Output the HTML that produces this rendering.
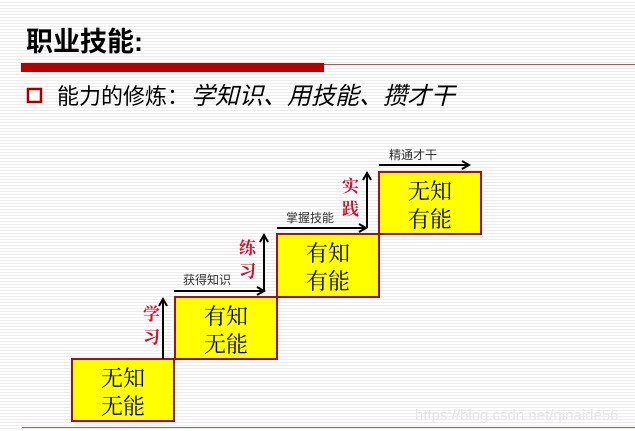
<!DOCTYPE html>
<html><head><meta charset="utf-8"><style>
html,body{margin:0;padding:0}
body{width:635px;height:431px;overflow:hidden;background:#fff repeating-linear-gradient(to bottom,#fff 0,#fff 2px,#ececec 2px,#ececec 3px);font-family:"Liberation Sans","Noto Sans CJK SC",sans-serif;position:relative}
</style></head><body>
<svg width="635" height="431" style="position:absolute;left:0;top:0" font-family="'Liberation Sans','Noto Sans CJK SC',sans-serif">
<defs><marker id="a" markerWidth="10" markerHeight="10" refX="8" refY="5" orient="auto" markerUnits="userSpaceOnUse"><path d="M1,1 L8,5 L1,9" fill="none" stroke="#000" stroke-width="2"/></marker></defs>
<text x="26" y="51" font-size="27" font-weight="bold" fill="#000">职业技能:</text>
<rect x="21" y="63" width="303" height="9" fill="#b80000"/>
<line x1="324" y1="64.5" x2="635" y2="64.5" stroke="#c45050" stroke-width="1"/>
<rect x="28" y="89" width="13" height="13" fill="#fff" stroke="#a00000" stroke-width="2.5"/>
<text x="57" y="104" font-size="22" fill="#000">能力的修炼：<tspan font-style="italic" font-size="24" dx="2">学知识、用技能、攒才干</tspan></text>
<g fill="#ffff00" stroke="#a01020" stroke-width="2">
<rect x="72" y="359" width="102" height="62"/>
<rect x="175" y="297" width="102" height="62"/>
<rect x="277" y="234" width="102" height="63"/>
<rect x="379" y="172" width="102" height="62"/>
</g>
<g font-size="22" fill="#000" text-anchor="middle" font-family="'Liberation Serif','Noto Serif CJK SC',serif">
<text x="123" y="386">无知</text><text x="123" y="414">无能</text>
<text x="226" y="324">有知</text><text x="226" y="352">无能</text>
<text x="328" y="261">有知</text><text x="328" y="289">有能</text>
<text x="430" y="199">无知</text><text x="430" y="227">有能</text>
</g>
<g stroke="#000" stroke-width="2" marker-end="url(#a)">
<line x1="163" y1="359" x2="163" y2="299"/>
<line x1="174" y1="291" x2="264" y2="291"/>
<line x1="264" y1="291" x2="264" y2="235"/>
<line x1="277" y1="228" x2="366" y2="228"/>
<line x1="367" y1="228" x2="367" y2="173"/>
<line x1="379" y1="165" x2="469" y2="165"/>
</g>
<g font-size="17" font-weight="bold" fill="#d01030" font-family="'Liberation Serif','Noto Serif CJK SC',serif">
<text x="143" y="320">学</text><text x="143" y="343">习</text>
<text x="239" y="254">练</text><text x="239" y="277">习</text>
<text x="342" y="192">实</text><text x="342" y="215">践</text>
</g>
<g font-size="12" fill="#333">
<text x="183" y="284">获得知识</text>
<text x="286" y="222">掌握技能</text>
<text x="389" y="159">精通才干</text>
</g>
<text x="415" y="420" font-size="15" fill="#e6e6e6">https://blog.csdn.net/qinaide56</text>
<line x1="22" y1="427.5" x2="635" y2="427.5" stroke="#8a6a6a" stroke-width="1"/>
</svg>
</body></html>
